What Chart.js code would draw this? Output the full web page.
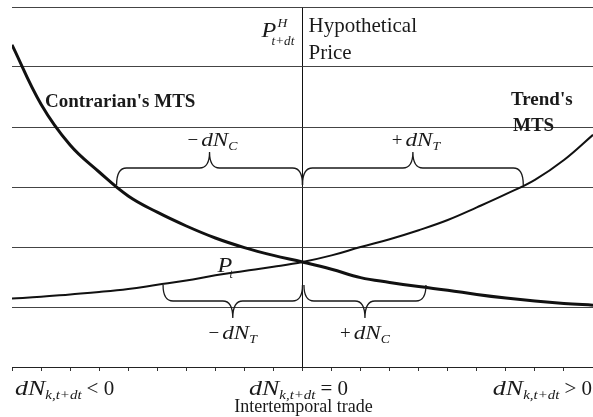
<!DOCTYPE html>
<html lang="en">
<head>
    <meta charset="UTF-8">
    <title>Contrarian vs Trend MTS</title>
    <script src="https://cdn.jsdelivr.net/npm/chart.js"></script>
    <style>
        body { margin: 0; background: #fff; }
        canvas { display: block; }
    </style>
</head>
<body>
    <canvas id="mtsChart" width="593" height="417"></canvas>

    <script>
        // intertemporal trade (x) and price levels of the two MTS curves
        const trade = [-10, -9, -8, -7, -6, -5, -4, -3, -2, -1, 0, 1, 2, 3, 4, 5, 6, 7, 8, 9, 10];
        const contrarianMTS = [5.37, 4.38, 3.70, 3.25, 2.85, 2.58, 2.35, 2.15, 1.99, 1.86, 1.75,
                               1.63, 1.49, 1.41, 1.34, 1.28, 1.21, 1.15, 1.10, 1.06, 1.03];
        const trendMTS = [1.14, 1.17, 1.21, 1.25, 1.30, 1.37, 1.44, 1.53, 1.60, 1.67, 1.75,
                          1.86, 2.00, 2.13, 2.28, 2.45, 2.66, 2.88, 3.12, 3.45, 3.87];

        // braces: span in trade units, price level they hang from, label parts
        const braceFrom = [-6.4, 0, -4.8, 0.05];
        const braceTo = [0, 7.6, 0, 4.25];
        const braceLevel = [3, 3, 1, 1];
        const braceSign = ['\u2212', '+', '\u2212', '+'];
        const braceSub = ['C', 'T', 'T', 'C'];

        const SERIF = '"Liberation Serif", "Times New Roman", serif';
        const ink = '#1a1a1a';

        function pts(ys) { return trade.map((x, i) => ({ x: x, y: ys[i] })); }

        // draw a row of text runs; each run may have its own font, shift and horizontal stretch
        function runs(ctx, parts, x, y, align) {
            let w = 0;
            parts.forEach(p => { ctx.font = p.f; w += ctx.measureText(p.t).width * (p.sx || 1) + (p.gap || 0); });
            let cx = align === 'center' ? x - w / 2 : align === 'right' ? x - w : x;
            ctx.textAlign = 'left';
            parts.forEach(p => {
                const sx = p.sx || 1;
                cx += p.gap || 0;
                ctx.font = p.f;
                ctx.save();
                ctx.translate(cx, y + (p.dy || 0));
                ctx.scale(sx, 1);
                ctx.fillText(p.t, 0, 0);
                ctx.restore();
                cx += ctx.measureText(p.t).width * sx;
            });
        }

        function brace(ctx, x1, x2, yEnd, yBody, yTip) {
            const xm = (x1 + x2) / 2, r = 10;
            ctx.beginPath();
            ctx.moveTo(x1, yEnd);
            ctx.quadraticCurveTo(x1, yBody, x1 + r, yBody);
            ctx.lineTo(xm - r, yBody);
            ctx.quadraticCurveTo(xm, yBody, xm, yTip);
            ctx.quadraticCurveTo(xm, yBody, xm + r, yBody);
            ctx.lineTo(x2 - r, yBody);
            ctx.quadraticCurveTo(x2, yBody, x2, yEnd);
            ctx.stroke();
        }

        const notes = {
            id: 'notes',
            afterDatasetsDraw(chart) {
                const ctx = chart.ctx, xs = chart.scales.x, ys = chart.scales.y;
                const x0 = xs.getPixelForValue(0);
                ctx.save();
                ctx.fillStyle = ink;
                ctx.strokeStyle = ink;
                ctx.lineWidth = 1.3;
                ctx.textBaseline = 'alphabetic';

                const up = '19px ' + SERIF, it = 'italic 19px ' + SERIF, sub = 'italic 12px ' + SERIF;
                braceFrom.forEach((f, i) => {
                    const a = xs.getPixelForValue(f), b = xs.getPixelForValue(braceTo[i]);
                    const yl = ys.getPixelForValue(braceLevel[i]);
                    const mid = (a + b) / 2;
                    const label = [
                        { t: braceSign[i], f: up },
                        { t: 'dN', f: it, sx: 1.22, gap: 3 },
                        { t: braceSub[i], f: sub, dy: 4, sx: 1.15 }
                    ];
                    if (braceLevel[i] > 2) {
                        brace(ctx, a, b, yl - 2, yl - 19, yl - 35);
                        runs(ctx, label, mid + 3, yl - 41, 'center');
                    } else {
                        brace(ctx, a, b, yl - 22, yl - 6, yl + 11);
                        runs(ctx, label, mid, yl + 32, 'center');
                    }
                });

                // vertical axis title
                runs(ctx, [{ t: 'P', f: 'italic 22px ' + SERIF, sx: 1.1 }], x0 - 41, 37, 'left');
                runs(ctx, [{ t: 'H', f: 'italic 13px ' + SERIF, sx: 1.05 }], x0 - 25, 27, 'left');
                runs(ctx, [{ t: 't+dt', f: 'italic 12px ' + SERIF, sx: 1.1 }], x0 - 31, 45, 'left');
                ctx.font = '21px ' + SERIF;
                ctx.fillText('Hypothetical', x0 + 6, 32);
                ctx.fillText('Price', x0 + 6, 59);

                // curve names
                ctx.font = 'bold 19px ' + SERIF;
                ctx.fillText("Contrarian's MTS", 45, 107);
                ctx.fillText("Trend's", 511, 105);
                ctx.fillText('MTS', 513, 131);

                // current price at the crossing
                runs(ctx, [{ t: 'P', f: 'italic 22px ' + SERIF, sx: 1.1 }], x0 - 85, 272, 'left');
                runs(ctx, [{ t: 't', f: 'italic 12px ' + SERIF }], x0 - 73, 278, 'left');

                // horizontal axis labels
                const base = chart.chartArea.bottom + 28;
                const dn = (rest) => [
                    { t: 'dN', f: 'italic 20px ' + SERIF, sx: 1.3 },
                    { t: 'k,t+dt', f: 'italic 13px ' + SERIF, dy: 4, sx: 1.15 },
                    { t: rest, f: '21px ' + SERIF, gap: 5 }
                ];
                runs(ctx, dn('< 0'), 15, base, 'left');
                runs(ctx, dn('= 0'), x0 - 4, base, 'center');
                runs(ctx, dn('> 0'), 592, base, 'right');
                ctx.font = '18px ' + SERIF;
                ctx.textAlign = 'center';
                ctx.fillText('Intertemporal trade', x0 + 1, base + 17);
                ctx.restore();
            }
        };

        new Chart(document.getElementById('mtsChart'), {
            type: 'line',
            data: {
                datasets: [
                    {
                        label: "Contrarian's MTS",
                        data: pts(contrarianMTS),
                        borderColor: '#111',
                        borderWidth: 3,
                        tension: 0.4,
                        pointRadius: 0,
                        fill: false
                    },
                    {
                        label: "Trend's MTS",
                        data: pts(trendMTS),
                        borderColor: '#111',
                        borderWidth: 2,
                        tension: 0.4,
                        pointRadius: 0,
                        fill: false
                    }
                ]
            },
            options: {
                responsive: false,
                animation: false,
                layout: { padding: { left: 12, right: 0, top: 7, bottom: 46 } },
                plugins: { legend: { display: false }, tooltip: { enabled: false } },
                scales: {
                    x: {
                        type: 'linear',
                        min: -10,
                        max: 10,
                        ticks: { display: false, stepSize: 1 },
                        grid: {
                            color: c => c.tick && c.tick.value === 0 ? '#111' : 'rgba(0,0,0,0)',
                            lineWidth: 1,
                            tickColor: '#333',
                            tickLength: 4
                        },
                        border: { display: true, color: '#222', width: 1 }
                    },
                    y: {
                        min: 0,
                        max: 6,
                        ticks: { display: false, stepSize: 1 },
                        grid: { color: '#444', lineWidth: 1, drawTicks: false },
                        border: { display: false }
                    }
                }
            },
            plugins: [notes]
        });
    </script>
</body>
</html>
